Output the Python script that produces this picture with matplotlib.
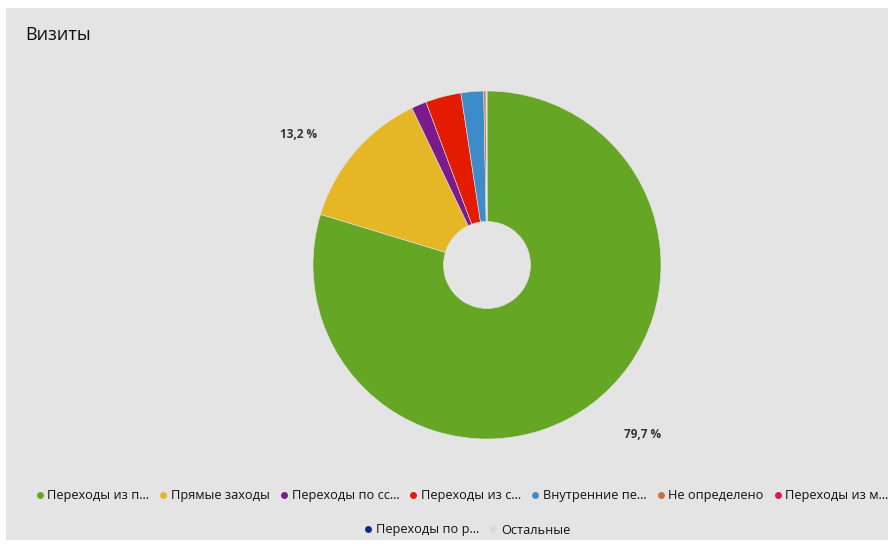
import matplotlib
matplotlib.use("Agg")
import matplotlib.pyplot as plt
import numpy as np
from matplotlib.patches import Rectangle
from matplotlib.lines import Line2D

plt.rcParams['font.family'] = ['Open Sans', 'DejaVu Sans']

# traffic sources, share of visits (%)
sources = ["Переходы из п…", "Прямые заходы", "Переходы по сс…", "Переходы из с…",
           "Внутренние пе…", "Не определено", "Переходы из м…", "Переходы по р…", "Остальные"]
shares = [79.7, 13.2, 1.4, 3.3, 2.1, 0.2, 0.05, 0.03, 0.02]
colors = ["#65a624", "#e5b626", "#7a1a8c", "#e31b00", "#3e8bc9",
          "#c4743a", "#e0184e", "#0c2a8c", "#d9d9d9"]

W, H = 892, 544
fig = plt.figure(figsize=(W / 100, H / 100), dpi=100)
fig.patch.set_facecolor("white")

# grey panel
fig.add_artist(Rectangle((6 / W, 4 / H), 882 / W, 532 / H, transform=fig.transFigure,
                         facecolor="#e4e4e4", edgecolor="none", zorder=0))

fig.text(25 / W, 1 - 35 / H, "Визиты", fontsize=13, va="center", ha="left", color="#111111")

# donut
cx, cy, r = 487, 265, 174
ax = fig.add_axes([(cx - r) / W, (H - cy - r) / H, 2 * r / W, 2 * r / H])
ax.set_facecolor("none")
wedges, _ = ax.pie(shares, colors=colors, startangle=90, counterclock=False,
                   radius=1.0, wedgeprops=dict(width=0.75, edgecolor="#e4e4e4", linewidth=0.4))
ax.set_xlim(-1, 1)
ax.set_ylim(-1, 1)
ax.set_aspect("equal")
ax.axis("off")

# percentage labels for the big slices
for w, v in zip(wedges, shares):
    if v < 5:
        continue
    ang = np.deg2rad((w.theta1 + w.theta2) / 2 + 6)
    ax.text(1.32 * np.cos(ang), 1.32 * np.sin(ang), ("%.1f %%" % v).replace(".", ","),
            ha="center", va="center", fontsize=8.5, fontweight="bold", color="#333333")

# legend, two rows
def handles(idx):
    return [Line2D([], [], marker="o", linestyle="none", markersize=5,
                   markerfacecolor=colors[i], markeredgecolor="none") for i in idx]

row1 = list(range(7))
row2 = [7, 8]
kw = dict(frameon=False, handletextpad=0.1, columnspacing=0.6,
          handlelength=1.0, borderpad=0, labelcolor="#111111", fontsize=9.2)
fig.legend(handles(row1), [sources[i] for i in row1], ncol=7,
           loc="center", bbox_to_anchor=(461 / W, 1 - 496 / H), **kw)
fig.legend(handles(row2), [sources[i] for i in row2], ncol=2,
           loc="center", bbox_to_anchor=(466 / W, 1 - 530 / H), **kw)

fig.savefig("out.png", dpi=100)
